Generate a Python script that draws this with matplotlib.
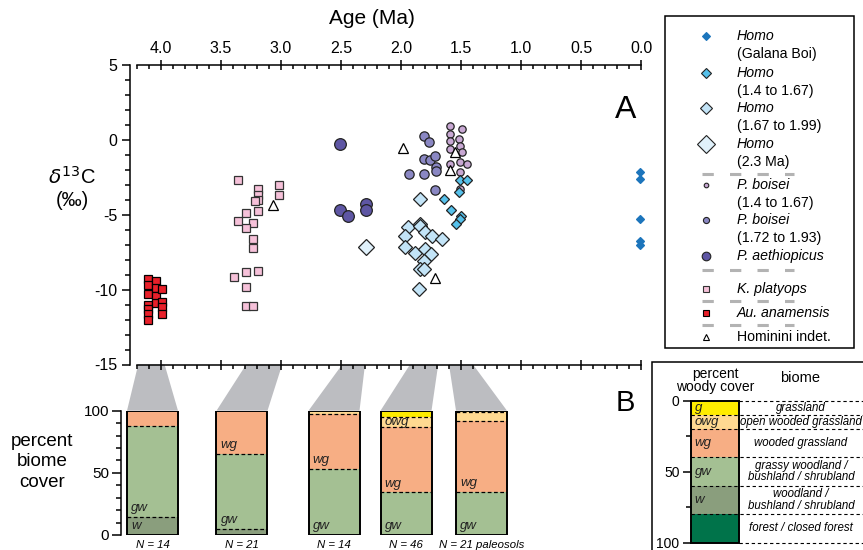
import numpy as np
import matplotlib
matplotlib.use('Agg')
import matplotlib.pyplot as plt
from matplotlib.patches import Polygon, Rectangle
from matplotlib.ticker import MultipleLocator, FormatStrFormatter

plt.rcParams['font.family'] = ['Liberation Sans', 'DejaVu Sans']
plt.rcParams['axes.unicode_minus'] = False

# ---- panel A data: age (Ma) and d13C (permil) ----
au_age = [4.11, 4.11, 4.11, 4.11, 4.11, 4.11, 4.11, 4.04, 4.04, 4.04, 4.04, 3.99, 3.99, 3.99, 3.99]
au_d13c = [-9.3, -9.7, -10.3, -11.0, -11.3, -11.6, -12.0, -9.4, -9.9, -10.4, -10.9, -9.95, -10.8, -11.15, -11.6]

kp_age = [3.36, 3.19, 3.19, 3.19, 3.22, 3.02, 3.02, 3.19, 3.29, 3.36, 3.23, 3.29, 3.23, 3.23, 3.19, 3.29, 3.39, 3.29, 3.29, 3.23]
kp_d13c = [-2.7, -3.3, -3.65, -4.0, -4.05, -3.0, -3.65, -4.75, -4.9, -5.45, -5.55, -5.9, -6.6, -7.2, -8.75, -8.85, -9.15, -9.85, -11.1, -11.1]

pa_age = [2.51, 2.51, 2.44, 2.29, 2.29]
pa_d13c = [-0.25, -4.7, -5.1, -4.3, -4.65]

pb_old_age = [1.81, 1.77, 1.81, 1.76, 1.72, 1.71, 1.71, 1.93, 1.81, 1.72]
pb_old_d13c = [0.25, -0.15, -1.3, -1.35, -1.1, -1.8, -2.1, -2.25, -2.3, -3.35]

pb_young_age = [1.59, 1.49, 1.59, 1.59, 1.52, 1.59, 1.51, 1.49, 1.59, 1.51, 1.45, 1.51, 1.51]
pb_young_d13c = [0.9, 0.72, 0.37, -0.08, 0.05, -0.59, -0.43, -0.81, -1.59, -1.48, -1.63, -2.14, -3.26]

homo_young_age = [1.51, 1.45, 1.52, 1.64, 1.58, 1.50, 1.51, 1.54]
homo_young_d13c = [-2.66, -2.66, -3.48, -3.92, -4.66, -5.1, -5.26, -5.59]

homo_mid_age = [1.84, 1.84, 1.94, 1.84, 1.80, 1.97, 1.74, 1.66, 1.97, 1.88, 1.80, 1.75, 1.81, 1.84, 1.81, 1.85]
homo_mid_d13c = [-3.92, -5.59, -5.81, -5.77, -6.14, -6.43, -6.43, -6.63, -7.15, -7.55, -7.32, -7.63, -8.08, -8.59, -8.65, -9.95]

homo_old_age = [2.29]
homo_old_d13c = [-7.15]

galana_age = [0.01, 0.01, 0.01, 0.01, 0.01]
galana_d13c = [-2.17, -2.63, -5.3, -6.77, -7.03]

indet_age = [3.07, 1.98, 1.55, 1.59, 1.72]
indet_d13c = [-4.32, -0.52, -0.81, -2.03, -9.25]

# ---- panel B data: percent biome cover per sample ----
sample_ages = [(4.19, 3.97), (3.29, 2.99), (2.49, 2.30), (1.925, 1.69), (1.60, 1.40)]
sample_n = ['N = 14', 'N = 21', 'N = 14', 'N = 46', 'N = 21 paleosols']
biomes = ['w', 'gw', 'wg', 'owg', 'g']
cover_w = [14.8, 4.8, 0, 0, 0]
cover_gw = [72.5, 60.5, 53.0, 34.4, 34.9]
cover_wg = [12.7, 34.7, 44.5, 52.5, 56.5]
cover_owg = [0, 0, 2.5, 8.1, 7.5]
cover_g = [0, 0, 0, 5.0, 1.1]

woody_bounds = [0, 10, 20, 40, 60, 80, 100]
woody_codes = ['g', 'owg', 'wg', 'gw', 'w', '']
woody_names = ['grassland', 'open wooded grassland', 'wooded grassland',
               'grassy woodland /\nbushland / shrubland',
               'woodland /\nbushland / shrubland', 'forest / closed forest']

biome_col = {'g': '#ffec00', 'owg': '#ffd991', 'wg': '#f7ae84', 'gw': '#a4c093',
             'w': '#8a9e7d', 'f': '#00734a'}

W, H = 863, 550
fig = plt.figure(figsize=(W / 100, H / 100), dpi=100)


def px(l, t, r, b):
    return [l / W, 1 - b / H, (r - l) / W, (b - t) / H]


# ---------------- panel A ----------------
ax = fig.add_axes(px(137, 65, 641, 364.5))
ax.patch.set_visible(False)
ax.set_xlim(4.2, 0.0)
ax.set_ylim(-15, 5)
ax.spines['right'].set_visible(False)
ax.spines['top'].set_visible(False)
ax.spines['left'].set_position(('outward', 5))
ax.spines['left'].set_linewidth(1.1)
ax.spines['bottom'].set_linewidth(1.1)
ax.xaxis.set_major_locator(MultipleLocator(0.5))
ax.xaxis.set_minor_locator(MultipleLocator(0.1))
ax.yaxis.set_major_locator(MultipleLocator(5))
ax.yaxis.set_minor_locator(MultipleLocator(1))
ax.tick_params(axis='x', which='major', direction='inout', length=7, width=1.1, labelbottom=False)
ax.tick_params(axis='x', which='minor', direction='out', length=3, width=1.1)
ax.tick_params(axis='y', which='major', direction='out', length=6, width=1.1, labelsize=11.5, pad=3)
ax.tick_params(axis='y', which='minor', direction='out', length=3.5, width=1.1)

top = ax.secondary_xaxis('top')
top.xaxis.set_major_locator(MultipleLocator(0.5))
top.xaxis.set_minor_locator(MultipleLocator(0.1))
top.xaxis.set_major_formatter(FormatStrFormatter('%.1f'))
top.tick_params(which='major', direction='inout', length=7, width=1.1, labelsize=11.5, pad=3)
top.tick_params(which='minor', direction='in', length=3, width=1.1)
top.spines['top'].set_linewidth(1.1)

groups = [
    (au_age, au_d13c, dict(marker='s', ms=5.8, mfc='#e8202a', mec='black'), 4.2),
    (kp_age, kp_d13c, dict(marker='s', ms=5.8, mfc='#f6c1d9', mec='#333333'), 4.2),
    (pa_age, pa_d13c, dict(marker='o', ms=8.4, mfc='#5e56a4', mec='#222222'), 6.2),
    (pb_old_age, pb_old_d13c, dict(marker='o', ms=6.7, mfc='#8a87c3', mec='#222222'), 4.4),
    (pb_young_age, pb_young_d13c, dict(marker='o', ms=5.3, mfc='#c8a8d3', mec='#222222'), 3.3),
    (homo_old_age, homo_old_d13c, dict(marker='D', ms=8.5, mfc='#e0f1fb', mec='#222222'), 7.0),
    (homo_mid_age, homo_mid_d13c, dict(marker='D', ms=7.0, mfc='#c3e4f7', mec='#222222'), 4.8),
    (homo_young_age, homo_young_d13c, dict(marker='D', ms=4.6, mfc='#56c1eb', mec='#222222'), 3.6),
    (galana_age, galana_d13c, dict(marker='D', ms=3.8, mfc='#1c75bc', mec='#1c75bc'), 3.0),
    (indet_age, indet_d13c, dict(marker='^', ms=6.5, mfc='white', mec='black'), 4.2),
]
for xs, ys, st, _ in groups:
    ax.plot(xs, ys, ls='none', mew=0.9, clip_on=False, **st)

fig.text(372 / W, 1 - 18 / H, 'Age (Ma)', fontsize=15, ha='center', va='center')
fig.text(72 / W, 1 - 177 / H, r'$\delta^{13}$C', fontsize=14.5, ha='center', va='center')
fig.text(72 / W, 1 - 200 / H, '(‰)', fontsize=14.5, ha='center', va='center')
fig.text(626 / W, 1 - 110 / H, 'A', fontsize=23, ha='center', va='center')
fig.text(625 / W, 1 - 403 / H, 'B', fontsize=21, ha='center', va='center')

# ---------------- legend of panel A ----------------
axl = fig.add_axes(px(665, 16, 854, 348))
axl.set_xlim(665, 854)
axl.set_ylim(348, 16)
axl.axis('off')
axl.add_patch(Rectangle((665, 16), 189, 332, fill=False, lw=1.1, ec='black', clip_on=False))
leg_rows = [
    (8, 36, [('Homo', 'italic'), ('(Galana Boi)', 'normal')], 4.3),
    (7, 73, [('Homo', 'italic'), ('(1.4 to 1.67)', 'normal')], 5.0),
    (6, 108, [('Homo', 'italic'), ('(1.67 to 1.99)', 'normal')], 6.6),
    (5, 144, [('Homo', 'italic'), ('(2.3 Ma)', 'normal')], 9.6),
    (4, 185, [('P. boisei', 'italic'), ('(1.4 to 1.67)', 'normal')], None),
    (3, 220, [('P. boisei', 'italic'), ('(1.72 to 1.93)', 'normal')], None),
    (2, 256, [('P. aethiopicus', 'italic')], None),
    (1, 289, [('K. platyops', 'italic')], None),
    (0, 313, [('Au. anamensis', 'italic')], None),
    (9, 337, [('Hominini indet.', 'normal')], None),
]
for gi, y, lines, ms in leg_rows:
    st = dict(groups[gi][2])
    st['ms'] = ms if ms is not None else groups[gi][3]
    axl.plot([706], [y], ls='none', mew=0.8, clip_on=False, **st)
    for k, (txt, sty) in enumerate(lines):
        axl.text(737, y + 18 * k, txt, style=sty, fontsize=10.2, ha='left', va='center')
for y in [174, 270, 301, 325]:
    axl.plot([702, 794], [y, y], color='#b3b3b3', lw=2.2, ls=(0, (3.7, 5.3)),
             solid_capstyle='butt', dash_capstyle='butt', clip_on=False)

# ---------------- panel B bars ----------------
axb = fig.add_axes(px(120.7, 410.7, 641, 535))
axb.patch.set_visible(False)
axb.set_xlim((641 - 120.7) / 120, 0.0)
axb.set_ylim(0, 100)
for s in ['right', 'top', 'bottom']:
    axb.spines[s].set_visible(False)
axb.spines['left'].set_linewidth(1.1)
axb.set_xticks([])
axb.set_yticks([0, 50, 100])
axb.yaxis.set_minor_locator(MultipleLocator(10))
axb.tick_params(axis='y', which='major', direction='out', length=6.5, width=1.1, labelsize=11, pad=2)
axb.tick_params(axis='y', which='minor', direction='out', length=3.5, width=1.1)

bar_pos = [(641 - 152.5) / 120, (641 - 242) / 120, (641 - 334) / 120, (641 - 406) / 120, (641 - 481.5) / 120]
bw = 51 / 120
cover = [cover_w, cover_gw, cover_wg, cover_owg, cover_g]
bottoms = np.zeros(len(bar_pos))
for name, vals in zip(biomes, cover):
    vals = np.array(vals)
    axb.bar(bar_pos, vals, bottom=bottoms, width=bw, color=biome_col[name], edgecolor='none', zorder=1)
    for i, v in enumerate(vals):
        if v <= 0:
            continue
        show = v >= 14 or (name == 'owg' and v >= 8)
        if show:
            yy = bottoms[i] + v / 2 if name == 'owg' else bottoms[i] + 7
            axb.text(bar_pos[i] + bw / 2 - 0.035, yy, name, style='italic', fontsize=9.5,
                     ha='left', va='center', color='#222222', zorder=4)
        top_edge = bottoms[i] + v
        if top_edge < 99.9:
            axb.hlines(top_edge, bar_pos[i] + bw / 2, bar_pos[i] - bw / 2, colors='black',
                       linestyles=(0, (3, 2)), lw=0.9, zorder=3)
    bottoms = bottoms + vals
axb.bar(bar_pos, [100] * len(bar_pos), width=bw, fill=False, edgecolor='black', lw=1.4, zorder=5)
for c, lab in zip(bar_pos, sample_n):
    axb.text(c, -8.3, lab, style='italic', fontsize=8.2, ha='center', va='center', clip_on=False)

fig.text(42 / W, 1 - 462 / H, 'percent\nbiome\ncover', fontsize=13.5, ha='center', va='center',
         linespacing=1.25)

# grey connectors from the age ranges to the bars
inv = fig.transFigure.inverted()
for (a0, a1), c in zip(sample_ages, bar_pos):
    pts = [ax.transData.transform((a0, -15)), ax.transData.transform((a1, -15)),
           axb.transData.transform((c - bw / 2, 100)), axb.transData.transform((c + bw / 2, 100))]
    pts = inv.transform(np.array(pts))
    fig.add_artist(Polygon(pts, closed=True, transform=fig.transFigure, facecolor='#bcbdc1',
                           edgecolor='none', zorder=-1))

# ---------------- biome key ----------------
fig.add_artist(Rectangle((652 / W, 1 - 570 / H), 230 / W, 208 / H, transform=fig.transFigure,
                         fill=False, ec='black', lw=1.1))
axk = fig.add_axes(px(690.7, 400.7, 739.3, 542.5))
axk.set_xlim(0, 1)
axk.set_ylim(100, 0)
for s in axk.spines.values():
    s.set_visible(False)
axk.set_xticks([])
axk.set_yticks([0, 50, 100])
axk.set_yticks([25, 75], minor=True)
axk.tick_params(axis='y', which='major', direction='out', length=6, width=1.1, labelsize=10, pad=2)
axk.tick_params(axis='y', which='minor', direction='out', length=3.5, width=1.1)
key_colors = [biome_col['g'], biome_col['owg'], biome_col['wg'], biome_col['gw'], biome_col['w'], biome_col['f']]
for i in range(len(woody_codes)):
    b0, b1 = woody_bounds[i], woody_bounds[i + 1]
    axk.bar(0.5, b1 - b0, bottom=b0, width=1, color=key_colors[i], edgecolor='none')
    if woody_codes[i]:
        yy = b0 + min(13, (b1 - b0) / 2)
        axk.text(0.08, yy, woody_codes[i], style='italic', fontsize=9.5, ha='left', va='center',
                 color='#222222')
    axk.text((801 - 690.7) / 48.6, (b0 + b1) / 2, woody_names[i], style='italic', fontsize=8.3,
             ha='center', va='center', linespacing=0.95, clip_on=False)
axk.add_patch(Rectangle((0, 0), 1, 100, fill=False, ec='black', lw=1.4, clip_on=False, zorder=5))
for b in woody_bounds:
    x0 = 1 if b in (0, 100) else 0
    axk.plot([x0, 3.7], [b, b], color='black', lw=0.8, ls=(0, (3, 2.5)), clip_on=False)

fig.text(715 / W, 1 - 374 / H, 'percent', fontsize=10, ha='center', va='center')
fig.text(715 / W, 1 - 387.5 / H, 'woody cover', fontsize=10, ha='center', va='center')
fig.text(800 / W, 1 - 378 / H, 'biome', fontsize=10.5, ha='center', va='center')

fig.savefig('out.png', dpi=100)
